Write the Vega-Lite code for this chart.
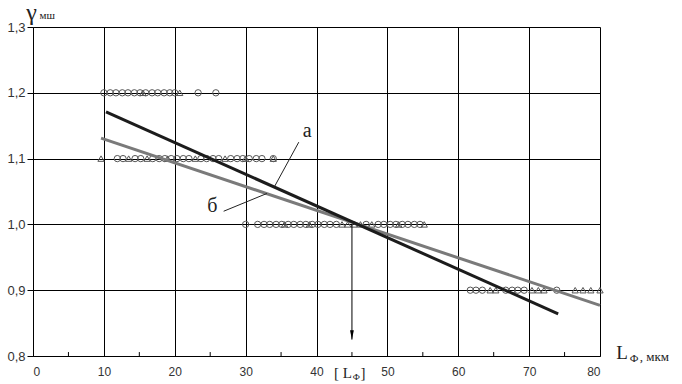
{
  "$schema": "https://vega.github.io/schema/vega-lite/v6.json",
  "autosize": "none",
  "width": 567,
  "height": 329,
  "padding": {"left": 33, "top": 27, "right": 82, "bottom": 28},
  "background": "white",
  "config": {"view": {"stroke": null}, "font": "Liberation Sans"},
  "datasets": {
    "pts": [
      {"x": 10.0, "y": 1.2, "m": "o"}, {"x": 10.9, "y": 1.2, "m": "o"}, {"x": 11.7, "y": 1.2, "m": "o"}, {"x": 12.6, "y": 1.2, "m": "o"}, {"x": 13.4, "y": 1.2, "m": "o"}, {"x": 14.3, "y": 1.2, "m": "o"}, {"x": 15.1, "y": 1.2, "m": "o"}, {"x": 15.9, "y": 1.2, "m": "o"}, {"x": 16.8, "y": 1.2, "m": "o"}, {"x": 17.6, "y": 1.2, "m": "o"}, {"x": 18.5, "y": 1.2, "m": "o"}, {"x": 19.3, "y": 1.2, "m": "o"}, {"x": 20.0, "y": 1.2, "m": "o"}, {"x": 23.3, "y": 1.2, "m": "o"}, {"x": 25.8, "y": 1.2, "m": "o"},
      {"x": 15.5, "y": 1.2, "m": "t"}, {"x": 20.7, "y": 1.2, "m": "t"},
      {"x": 9.6, "y": 1.1, "m": "t"}, {"x": 13.5, "y": 1.1, "m": "t"}, {"x": 16.1, "y": 1.1, "m": "t"}, {"x": 19.0, "y": 1.1, "m": "t"}, {"x": 22.9, "y": 1.1, "m": "t"}, {"x": 27.1, "y": 1.1, "m": "t"}, {"x": 30.0, "y": 1.1, "m": "t"}, {"x": 33.9, "y": 1.1, "m": "t"},
      {"x": 11.9, "y": 1.1, "m": "o"}, {"x": 12.7, "y": 1.1, "m": "o"}, {"x": 14.4, "y": 1.1, "m": "o"}, {"x": 15.2, "y": 1.1, "m": "o"}, {"x": 16.9, "y": 1.1, "m": "o"}, {"x": 17.8, "y": 1.1, "m": "o"}, {"x": 18.6, "y": 1.1, "m": "o"}, {"x": 19.5, "y": 1.1, "m": "o"}, {"x": 20.3, "y": 1.1, "m": "o"}, {"x": 21.2, "y": 1.1, "m": "o"}, {"x": 22.0, "y": 1.1, "m": "o"}, {"x": 23.7, "y": 1.1, "m": "o"}, {"x": 24.5, "y": 1.1, "m": "o"}, {"x": 25.4, "y": 1.1, "m": "o"}, {"x": 26.2, "y": 1.1, "m": "o"}, {"x": 27.9, "y": 1.1, "m": "o"}, {"x": 28.8, "y": 1.1, "m": "o"}, {"x": 29.6, "y": 1.1, "m": "o"}, {"x": 30.5, "y": 1.1, "m": "o"}, {"x": 31.5, "y": 1.1, "m": "o"}, {"x": 32.3, "y": 1.1, "m": "o"}, {"x": 33.9, "y": 1.1, "m": "o"},
      {"x": 30.0, "y": 1.0, "m": "o"}, {"x": 31.7, "y": 1.0, "m": "o"}, {"x": 32.6, "y": 1.0, "m": "o"}, {"x": 33.4, "y": 1.0, "m": "o"}, {"x": 34.3, "y": 1.0, "m": "o"}, {"x": 35.1, "y": 1.0, "m": "o"}, {"x": 36.0, "y": 1.0, "m": "o"}, {"x": 36.8, "y": 1.0, "m": "o"}, {"x": 37.7, "y": 1.0, "m": "o"}, {"x": 38.5, "y": 1.0, "m": "o"}, {"x": 39.4, "y": 1.0, "m": "o"}, {"x": 40.2, "y": 1.0, "m": "o"}, {"x": 41.1, "y": 1.0, "m": "o"}, {"x": 41.9, "y": 1.0, "m": "o"}, {"x": 42.8, "y": 1.0, "m": "o"}, {"x": 47.0, "y": 1.0, "m": "o"}, {"x": 48.7, "y": 1.0, "m": "o"}, {"x": 49.5, "y": 1.0, "m": "o"}, {"x": 50.4, "y": 1.0, "m": "o"}, {"x": 51.2, "y": 1.0, "m": "o"}, {"x": 52.1, "y": 1.0, "m": "o"}, {"x": 52.9, "y": 1.0, "m": "o"}, {"x": 53.8, "y": 1.0, "m": "o"}, {"x": 54.6, "y": 1.0, "m": "o"},
      {"x": 35.5, "y": 1.0, "m": "t"}, {"x": 39.0, "y": 1.0, "m": "t"}, {"x": 43.6, "y": 1.0, "m": "t"}, {"x": 44.4, "y": 1.0, "m": "t"}, {"x": 45.3, "y": 1.0, "m": "t"}, {"x": 46.2, "y": 1.0, "m": "t"}, {"x": 47.8, "y": 1.0, "m": "t"}, {"x": 51.6, "y": 1.0, "m": "t"}, {"x": 55.2, "y": 1.0, "m": "t"},
      {"x": 61.7, "y": 0.9, "m": "o"}, {"x": 62.5, "y": 0.9, "m": "o"}, {"x": 63.4, "y": 0.9, "m": "o"}, {"x": 66.7, "y": 0.9, "m": "o"}, {"x": 67.6, "y": 0.9, "m": "o"}, {"x": 68.4, "y": 0.9, "m": "o"}, {"x": 69.3, "y": 0.9, "m": "o"}, {"x": 73.9, "y": 0.9, "m": "o"},
      {"x": 64.5, "y": 0.9, "m": "t"}, {"x": 65.3, "y": 0.9, "m": "t"}, {"x": 70.4, "y": 0.9, "m": "t"}, {"x": 71.3, "y": 0.9, "m": "t"}, {"x": 72.1, "y": 0.9, "m": "t"}, {"x": 76.5, "y": 0.9, "m": "t"}, {"x": 77.6, "y": 0.9, "m": "t"}, {"x": 78.7, "y": 0.9, "m": "t"}, {"x": 80.0, "y": 0.9, "m": "t"}
    ],
    "lines": [
      {"x": 9.6, "y": 1.131, "s": "б"}, {"x": 80.0, "y": 0.877, "s": "б"},
      {"x": 10.3, "y": 1.171, "s": "а"}, {"x": 74.1, "y": 0.864, "s": "а"}
    ],
    "leaders": [
      {"x": 37.5, "y": 1.125, "x2": 34.1, "y2": 1.058},
      {"x": 26.9, "y": 1.020, "x2": 33.0, "y2": 1.047}
    ],
    "minor": [
      {"x": 5}, {"x": 15}, {"x": 25}, {"x": 35}, {"x": 45}, {"x": 55}, {"x": 65}, {"x": 75}
    ]
  },
  "layer": [
    {
      "data": {"name": "pts"},
      "mark": {"type": "point", "filled": false, "size": 40, "strokeWidth": 1, "opacity": 1},
      "encoding": {
        "x": {"field": "x", "type": "quantitative", "scale": {"domain": [0, 80], "nice": false},
          "axis": {"values": [0, 10, 20, 30, 40, 50, 60, 70, 80], "title": null, "grid": true, "gridColor": "#000", "gridOpacity": 1, "domainColor": "#000", "ticks": false, "labelPadding": 10, "labelFontSize": 12, "labelColor": "#333", "labelFont": "Liberation Sans"}},
        "y": {"field": "y", "type": "quantitative", "scale": {"domain": [0.8, 1.3], "nice": false, "zero": false},
          "axis": {"values": [0.8, 0.9, 1.0, 1.1, 1.2, 1.3], "title": null, "grid": true, "gridColor": "#000", "gridOpacity": 1, "domainColor": "#000", "tickColor": "#000", "tickSize": 6, "labelPadding": 2, "labelFontSize": 13, "labelColor": "#333", "labelFont": "Liberation Sans", "labelExpr": "replace(format(datum.value, '.1f'), '.', ',')"}},
        "shape": {"field": "m", "type": "nominal", "scale": {"domain": ["o", "t"], "range": ["circle", "triangle-up"]}, "legend": null},
        "color": {"value": "#555"}
      }
    },
    {
      "data": {"name": "minor"},
      "mark": {"type": "rule", "color": "#000", "strokeWidth": 1},
      "encoding": {"x": {"field": "x", "type": "quantitative"}, "y": {"datum": 0.8}, "y2": {"datum": 0.806}}
    },
    {
      "data": {"name": "lines"},
      "mark": {"type": "line", "strokeWidth": 3},
      "encoding": {
        "x": {"field": "x", "type": "quantitative"},
        "y": {"field": "y", "type": "quantitative"},
        "detail": {"field": "s"},
        "color": {"field": "s", "type": "nominal", "scale": {"domain": ["б", "а"], "range": ["#7a7a7a", "#1c1c1c"]}, "legend": null}
      }
    },
    {
      "data": {"name": "leaders"},
      "mark": {"type": "rule", "color": "#222", "strokeWidth": 1},
      "encoding": {
        "x": {"field": "x", "type": "quantitative"}, "y": {"field": "y", "type": "quantitative"},
        "x2": {"field": "x2"}, "y2": {"field": "y2"}
      }
    },
    {
      "data": {"values": [{"x": 45, "y": 1.0, "y2": 0.825}]},
      "mark": {"type": "rule", "color": "#000", "strokeWidth": 1},
      "encoding": {"x": {"field": "x", "type": "quantitative"}, "y": {"field": "y", "type": "quantitative"}, "y2": {"field": "y2"}}
    },
    {
      "data": {"values": [{"x": 45, "y": 0.832}]},
      "mark": {"type": "point", "filled": true, "shape": "M-0.4,-1L0.4,-1L0,1Z", "size": 90, "color": "#000", "opacity": 1},
      "encoding": {"x": {"field": "x", "type": "quantitative"}, "y": {"field": "y", "type": "quantitative"}}
    },
    {
      "data": {"values": [{"x": 38.7, "y": 1.142, "t": "а"}, {"x": 25.3, "y": 1.028, "t": "б"}]},
      "mark": {"type": "text", "font": "Liberation Serif", "fontSize": 20, "color": "#222", "align": "center", "baseline": "middle"},
      "encoding": {"x": {"field": "x", "type": "quantitative"}, "y": {"field": "y", "type": "quantitative"}, "text": {"field": "t"}}
    },
    {
      "data": {"values": [{"x": -0.2, "y": 1.321, "t": "γ"}]},
      "mark": {"type": "text", "font": "Liberation Serif", "fontSize": 24, "color": "#222", "align": "center", "baseline": "middle"},
      "encoding": {"x": {"field": "x", "type": "quantitative"}, "y": {"field": "y", "type": "quantitative"}, "text": {"field": "t"}}
    },
    {
      "data": {"values": [{"x": 83.1, "y": 0.804, "t": "L"}]},
      "mark": {"type": "text", "font": "Liberation Serif", "fontSize": 19, "color": "#222", "align": "center", "baseline": "middle"},
      "encoding": {"x": {"field": "x", "type": "quantitative"}, "y": {"field": "y", "type": "quantitative"}, "text": {"field": "t"}}
    },
    {
      "data": {"values": [{"x": 2.0, "y": 1.316, "t": "мш"}, {"x": 84.8, "y": 0.795, "t": "Ф"}]},
      "mark": {"type": "text", "font": "Liberation Serif", "fontSize": 11, "color": "#222", "align": "center", "baseline": "middle"},
      "encoding": {"x": {"field": "x", "type": "quantitative"}, "y": {"field": "y", "type": "quantitative"}, "text": {"field": "t"}}
    },
    {
      "data": {"values": [{"x": 85.6, "y": 0.799, "t": ", мкм"}]},
      "mark": {"type": "text", "font": "Liberation Serif", "fontSize": 13, "color": "#222", "align": "left", "baseline": "middle"},
      "encoding": {"x": {"field": "x", "type": "quantitative"}, "y": {"field": "y", "type": "quantitative"}, "text": {"field": "t"}}
    },
    {
      "data": {"values": [{"x": 45.0, "y": 0.774, "t": "[ L", "a": "r"}, {"x": 46.2, "y": 0.774, "t": "]", "a": "l"}]},
      "mark": {"type": "text", "font": "Liberation Serif", "fontSize": 15, "color": "#222", "baseline": "middle", "align": {"expr": "datum.a == 'r' ? 'right' : 'left'"}},
      "encoding": {"x": {"field": "x", "type": "quantitative"}, "y": {"field": "y", "type": "quantitative"}, "text": {"field": "t"}}
    },
    {
      "data": {"values": [{"x": 45.6, "y": 0.768, "t": "Ф"}]},
      "mark": {"type": "text", "font": "Liberation Serif", "fontSize": 9, "color": "#222", "align": "center", "baseline": "middle"},
      "encoding": {"x": {"field": "x", "type": "quantitative"}, "y": {"field": "y", "type": "quantitative"}, "text": {"field": "t"}}
    }
  ]
}
